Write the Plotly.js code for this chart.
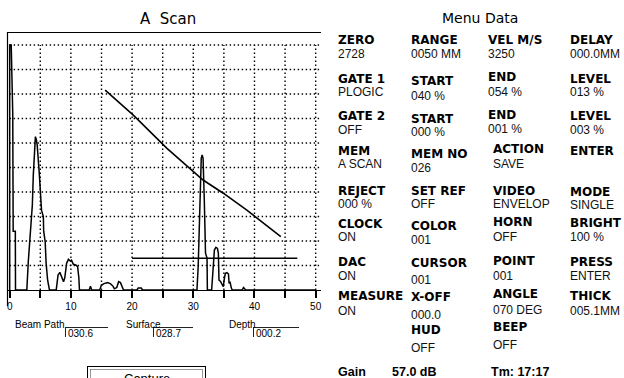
<!DOCTYPE html>
<html><head><meta charset="utf-8">
<script src="https://cdn.plot.ly/plotly-3.0.1.min.js"></script>
<style>html,body{margin:0;padding:0;background:#fff;}#chart{width:624px;height:378px;}</style>
</head><body><div id="chart"></div>
<script>
// ---------------- data ----------------
const echoDist = [0, 0, 0.25, 0.5, 0.57, 0.92, 0.95, 2.8, 3.04, 3.3, 3.7, 3.86, 4.03, 4.2, 4.35, 4.5, 4.85, 5.07, 5.2, 5.5, 5.55, 5.8, 5.95, 6.2, 6.5,
  7.6, 7.9, 8.2, 8.5, 8.8, 9.0, 9.3, 9.6, 9.9, 10.1, 10.4, 10.8, 11.1, 11.3, 11.4,
  13.0, 13.2, 13.4, 14.7, 15.0, 15.5, 16.0, 16.5, 16.9, 17.1, 17.5, 17.8, 18.1, 18.4, 18.6, 20.8, 21.0, 21.5, 21.7,
  30.6, 30.8, 31.0, 31.2, 31.3, 31.45, 31.6, 31.8, 32.0, 32.25, 32.3,
  33.0, 33.3, 33.45, 33.7, 33.95, 34.1, 34.2, 34.45, 34.7, 34.9, 35.1, 35.25, 35.5, 35.75, 35.85, 36.0, 36.2, 36.35,
  38.0, 38.2, 38.4, 38.5, 50];
const echoAmp = [0, 100, 100, 72, 24, 24, 0, 0, 11.6, 19.7, 34.7, 47, 59, 62.6, 61.5, 59, 47, 37, 32.6, 30, 24, 19.7, 11, 4, 0,
  0, 6.1, 7.2, 5, 3.4, 5, 10.9, 12.5, 11.8, 12.2, 10.5, 10.2, 9.5, 5, 0,
  0, 1.5, 0, 0, 2, 2.7, 3, 2.5, 1.5, 0.5, 1, 3.4, 3, 1.5, 0, 0, 0.8, 0.8, 0,
  0, 9.5, 27, 47.6, 53.7, 55.1, 53.7, 36.7, 15, 13, 0,
  0, 12, 16.3, 17.4, 17, 15, 4, 3.5, 2, 1.4, 5, 6.8, 7.1, 6.5, 2.7, 3.4, 1, 0,
  0, 1, 0.5, 0, 0];
const dacDist = [15.6, 20.2, 25.7, 31.6, 34.9, 38.7, 44.3];
const dacAmp  = [81.6, 71.4, 57.8, 44.9, 39.5, 32.7, 21.8];
const gateRange = [20, 47];
const gateLevel = [13, 13];
const xTickVals = [0, 5, 10, 15, 20, 25, 30, 35, 40, 45, 50];
const xTickText = ['0', '', '10', '', '20', '', '30', '', '40', '', '50'];
const gridAmps = [10, 20, 30, 40, 50, 60, 70, 80, 90, 100];

const menuLabels = [
  ['ZERO', 'RANGE', 'VEL M/S', 'DELAY'],
  ['GATE 1', 'START', 'END', 'LEVEL'],
  ['GATE 2', 'START', 'END', 'LEVEL'],
  ['MEM', 'MEM NO', 'ACTION', 'ENTER'],
  ['REJECT', 'SET REF', 'VIDEO', 'MODE'],
  ['CLOCK', 'COLOR', 'HORN', 'BRIGHT'],
  ['DAC', 'CURSOR', 'POINT', 'PRESS'],
  ['MEASURE', 'X-OFF', 'ANGLE', 'THICK'],
  ['', 'HUD', 'BEEP', '']
];
const menuValues = [
  ['2728', '0050 MM', '3250', '000.0MM'],
  ['PLOGIC', '040 %', '054 %', '013 %'],
  ['OFF', '000 %', '001 %', '003 %'],
  ['A SCAN', '026', 'SAVE', ''],
  ['000 %', 'OFF', 'ENVELOP', 'SINGLE'],
  ['ON', '001', 'OFF', '100 %'],
  ['ON', '001', '001', 'ENTER'],
  ['ON', '000.0', '070 DEG', '005.1MM'],
  ['', 'OFF', 'OFF', '']
];
const gainRow = ['Gain', '57.0 dB', 'Tm: 17:17'];
const fieldLabels = ['Beam Path', 'Surface', 'Depth'];
const fieldValues = ['030.6', '028.7', '000.2'];
const buttonText = 'Capture';

// ---------------- layout helpers (pixel positions) ----------------
const W = 624, H = 378;
const px = x => x / W;
const py = y => 1 - y / H;
const labelY = [
  [40.5, 40.5, 40.5, 40.5],
  [78.5, 81.5, 77, 78.5],
  [116, 118.5, 114.5, 116],
  [151, 154, 149, 151],
  [190.5, 190.5, 190.5, 192],
  [224, 226, 222, 222.5],
  [262, 263, 260.5, 262],
  [296, 297, 293.5, 296],
  [0, 330, 327, 0]
];
const valueY = [
  [54, 54, 54, 54],
  [92, 95.5, 92, 92],
  [129.5, 132.5, 128.5, 129.5],
  [164.5, 168, 164.5, 0],
  [204, 204, 204, 205.5],
  [237.5, 240, 237, 237],
  [276, 279.5, 275.5, 276],
  [311, 315, 310, 311],
  [0, 348, 345, 0]
];
const colX = (r, c) => [338, 411, r < 3 ? 487.5 : 492.5, 570][c];
const fieldLabelX = [14, 125, 228];
const fieldBox = [[65, 108], [153, 193], [253, 299]];

const LBL = {family: 'DejaVu Sans', size: 12, color: '#000', weight: 'bold'};
const VAL = {family: 'Liberation Sans, Arial', size: 12, color: '#111'};
const ann = [];
function txt(text, x, y, font, anchor) {
  ann.push({text: text, xref: 'paper', yref: 'paper', x: px(x), y: py(y),
    xanchor: anchor || 'left', yanchor: 'middle', showarrow: false, font: font,
    borderpad: 0});
}
txt('A\u00a0\u00a0Scan', 168, 19.2, {family: 'DejaVu Sans', size: 15, color: '#000'}, 'center');
txt('Menu Data', 480, 18.3, {family: 'DejaVu Sans', size: 14, color: '#000'}, 'center');
for (let r = 0; r < menuLabels.length; r++) {
  for (let c = 0; c < 4; c++) {
    if (menuLabels[r][c]) txt(menuLabels[r][c], colX(r, c) - 1, labelY[r][c], LBL);
    if (menuValues[r][c]) txt(menuValues[r][c], colX(r, c) - 1, valueY[r][c], VAL);
  }
}
const GAIN = {family: 'Liberation Sans, Arial', size: 12.5, color: '#000', weight: 'bold'};
txt(gainRow[0], 337, 372, GAIN);
txt(gainRow[1], 391, 372, GAIN);
txt(gainRow[2], 489.5, 372, GAIN);
const SMALL = {family: 'Liberation Sans, Arial', size: 10, color: '#000'};
for (let i = 0; i < 3; i++) {
  txt(fieldLabels[i], fieldLabelX[i], 324.5, SMALL);
  txt(fieldValues[i], fieldBox[i][0] + 1.5, 333, SMALL);
}
txt(buttonText, 147, 378, {family: 'Liberation Sans, Arial', size: 13, color: '#000'}, 'center');

const shapes = [];
const ln = (x0, y0, x1, y1, w, dash, color) => shapes.push({type: 'line', xref: 'paper', yref: 'paper',
  x0: px(x0), y0: py(y0), x1: px(x1), y1: py(y1), line: {color: color || '#000', width: w || 1, dash: dash || 'solid'}});
// frame
ln(7, 32.5, 321, 32.5, 1);
ln(7.5, 32, 7.5, 306, 1.2);
// grid
for (const v of xTickVals.slice(1)) shapes.push({type: 'line', xref: 'x', yref: 'y', x0: v, x1: v, y0: 0, y1: 100,
  layer: 'below', line: {color: '#000', width: 1.4, dash: '1.4px,2.6px'}});
for (const g of gridAmps) shapes.push({type: 'line', xref: 'x', yref: 'y', x0: 0, x1: 50.9, y0: g, y1: g,
  layer: 'below', line: {color: '#000', width: 1.4, dash: '1.4px,2.6px'}});
// edit boxes
for (const b of fieldBox) { ln(b[0], 327.5, b[1], 327.5, 1, null, '#222'); ln(b[0] + 0.5, 327, b[0] + 0.5, 337, 1, null, '#222'); }
// capture button
ln(87, 366.5, 206, 366.5, 1);
ln(87.5, 366, 87.5, 380, 1);
ln(205.5, 366, 205.5, 380, 1);
ln(90.5, 369.5, 202.5, 369.5, 1, '1px,1px', '#333');
ln(90.5, 369.5, 90.5, 380, 1, '1px,1px', '#333');
ln(202.5, 369.5, 202.5, 380, 1, '1px,1px', '#333');

const traces = [
  {x: echoDist, y: echoAmp, type: 'scatter', mode: 'lines', line: {color: '#000', width: 1.5}, hoverinfo: 'skip'},
  {x: dacDist, y: dacAmp, type: 'scatter', mode: 'lines', line: {color: '#000', width: 1.6}, hoverinfo: 'skip'},
  {x: gateRange, y: gateLevel, type: 'scatter', mode: 'lines', line: {color: '#000', width: 1.5}, hoverinfo: 'skip'}
];

const layout = {
  width: W, height: H, margin: {l: 0, r: 0, t: 0, b: 0},
  paper_bgcolor: '#fff', plot_bgcolor: '#fff', showlegend: false,
  font: {family: 'Liberation Sans, Arial', color: '#000'},
  xaxis: {domain: [7 / W, 321 / W], range: [-0.44, 50.87], tickvals: xTickVals, ticktext: xTickText,
    ticks: 'outside', ticklen: 7, tickwidth: 2, tickcolor: '#000', showline: true, linecolor: '#000', linewidth: 1,
    showgrid: false, zeroline: false, tickfont: {family: 'Liberation Sans, Arial', size: 10, color: '#000'}, fixedrange: true},
  yaxis: {domain: [88 / H, 346 / H], range: [0, 105.3], showticklabels: false, ticks: '', showgrid: false,
    zeroline: false, showline: false, fixedrange: true},
  annotations: ann, shapes: shapes
};
Plotly.newPlot('chart', traces, layout, {displayModeBar: false, staticPlot: true});
</script></body></html>
